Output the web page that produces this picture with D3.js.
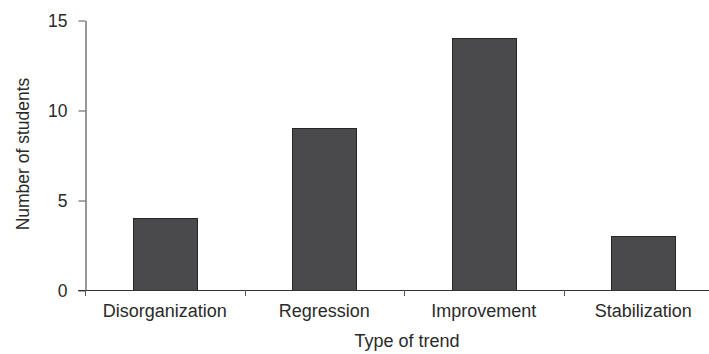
<!DOCTYPE html>
<html>
<head>
<meta charset="utf-8">
<script src="https://cdn.jsdelivr.net/npm/d3@7"></script>
<style>
  html, body { margin: 0; padding: 0; background: #fff; }
  svg { display: block; }
  text { font-family: "Liberation Sans", Arial, sans-serif; fill: #2a2a2a; }
</style>
</head>
<body>
<svg id="chart" width="709" height="354"></svg>
<script>
const categories = ["Disorganization", "Regression", "Improvement", "Stabilization"];
const students = [4, 9, 14, 3];
const yTicks = [0, 5, 10, 15];
const xTitle = "Type of trend";
const yTitle = "Number of students";

const svg = d3.select("#chart");
const plotLeft = 85, plotRight = 723, plotTop = 20, plotBottom = 290;

const x = d3.scaleBand().domain(categories).range([plotLeft, plotRight]).padding(0);
const y = d3.scaleLinear().domain([0, 15]).range([plotBottom, plotTop]);
const bw = x.bandwidth();

// bars
svg.append("g").selectAll("rect").data(categories).join("rect")
  .attr("x", (d) => Math.round(x(d) + bw * 0.3) + 0.5)
  .attr("y", (d, i) => Math.round(y(students[i])) + 0.5)
  .attr("width", Math.round(bw * 0.4))
  .attr("height", (d, i) => Math.round(y(0)) - Math.round(y(students[i])))
  .attr("fill", "#4a4a4c")
  .attr("stroke", "#262626")
  .attr("stroke-width", 1);

// y axis
const yAxis = svg.append("g")
  .attr("transform", `translate(${plotLeft + 0.5},0.5)`)
  .call(d3.axisLeft(y).tickValues(yTicks).tickSize(7).tickPadding(11).tickSizeOuter(0));
yAxis.select(".domain").attr("stroke", "#333");
yAxis.selectAll(".tick line").attr("stroke", "#555");
yAxis.selectAll(".tick text")
  .attr("font-size", 17.5)
  .attr("font-family", "Liberation Sans, Arial, sans-serif")
  .attr("fill", "#2a2a2a");

// x axis line
const xg = svg.append("g");
xg.append("line")
  .attr("x1", plotLeft - 7).attr("x2", 709)
  .attr("y1", plotBottom + 0.5).attr("y2", plotBottom + 0.5)
  .attr("stroke", "#333");
// boundary ticks
const bounds = categories.map((c) => x(c));
xg.selectAll("line.tk").data(bounds).join("line")
  .attr("class", "tk")
  .attr("x1", (d) => Math.round(d) + 0.5).attr("x2", (d) => Math.round(d) + 0.5)
  .attr("y1", plotBottom).attr("y2", plotBottom + 6)
  .attr("stroke", "#555");
// category labels
xg.selectAll("text").data(categories).join("text")
  .attr("x", (d) => x(d) + bw / 2)
  .attr("y", 317)
  .attr("text-anchor", "middle")
  .attr("font-size", 18)
  .text((d) => d);

// titles
svg.append("text")
  .attr("x", 407).attr("y", 347)
  .attr("text-anchor", "middle")
  .attr("font-size", 18)
  .text(xTitle);
svg.append("text")
  .attr("transform", "translate(29,154) rotate(-90)")
  .attr("text-anchor", "middle")
  .attr("font-size", 17.5)
  .text(yTitle);
</script>
</body>
</html>
